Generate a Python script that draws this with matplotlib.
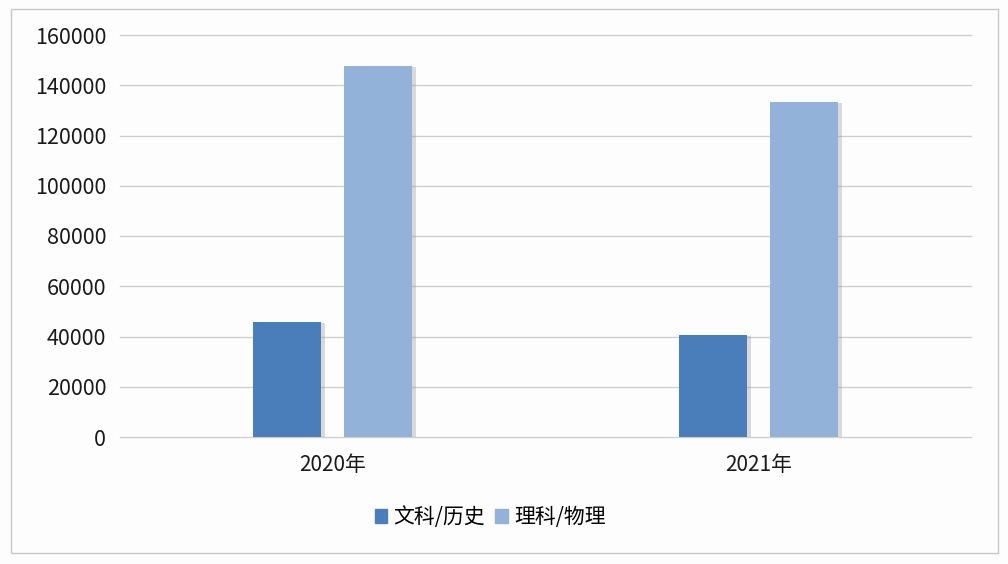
import matplotlib.pyplot as plt
import matplotlib.patheffects as pe
from matplotlib.patches import Rectangle, Patch
import numpy as np

plt.rcParams['font.family'] = ['Noto Sans CJK SC', 'DejaVu Sans']

years = ['2020年', '2021年']
series_names = ['文科/历史', '理科/物理']
wenke = [45900, 40600]    # 文科/历史
like = [147700, 133500]   # 理科/物理
colors = ['#4a7ebb', '#93b2d9']

fig = plt.figure(figsize=(10.08, 5.64), dpi=100)
fig.patch.set_facecolor('#fdfdfe')

# grey frame round the whole chart
fig.patches.append(Rectangle((10.5/1008, 11/564), (998-10.5)/1008, (555-11)/564,
                             transform=fig.transFigure, fill=False,
                             edgecolor='#c8c8c8', lw=1))

ax = fig.add_axes([120/1008, 127/564, 851/1008, 402/564])
ax.set_facecolor('none')

x = np.arange(len(years))
w = 0.16
shadow = [pe.SimplePatchShadow(offset=(3, -1), shadow_rgbFace='#888888', alpha=0.3), pe.Normal()]
b1 = ax.bar(x - 0.107, wenke, w, color=colors[0], zorder=3)
b2 = ax.bar(x + 0.107, like, w, color=colors[1], zorder=3)
for b in list(b1) + list(b2):
    b.set_path_effects(shadow)

ax.set_xlim(-0.5, 1.5)
ax.set_ylim(0, 160000)
ax.set_yticks(range(0, 160001, 20000))
ax.yaxis.grid(True, color='#d0d0d0', lw=1, zorder=0)
for gl in ax.get_ygridlines():
    gl.set_clip_on(False)
ax.set_axisbelow(True)
for s in ax.spines.values():
    s.set_visible(False)
ax.tick_params(axis='y', length=0, pad=10, labelsize=15.5, labelcolor='#1a1a1a')
ax.tick_params(axis='x', length=0, pad=12, labelsize=15, labelcolor='#1a1a1a')
ax.set_xticks(x)
ax.set_xticklabels(years)

handles = [Patch(color=c, label=n) for c, n in zip(colors, series_names)]
ax.legend(handles=handles, loc='center', bbox_to_anchor=(0.435, -0.2), ncol=2,
          frameon=False, fontsize=15, handlelength=0.6, handleheight=0.6,
          handletextpad=0.3, columnspacing=0.5)

fig.savefig('out.png', dpi=100, facecolor=fig.get_facecolor())
